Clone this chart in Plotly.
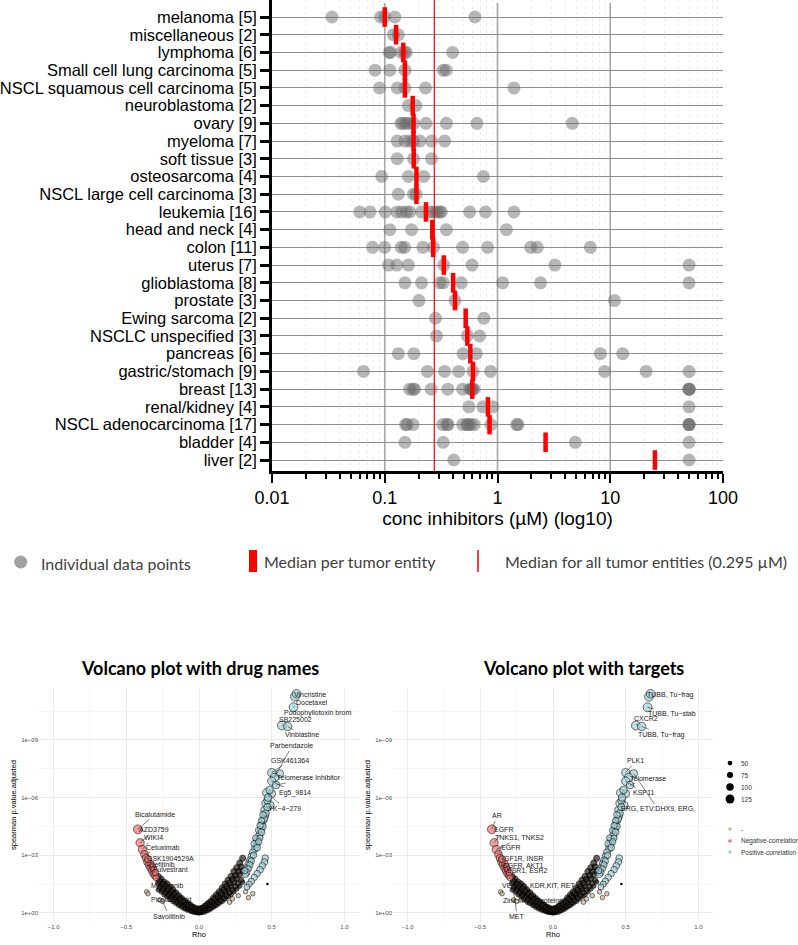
import plotly.graph_objects as go

# ---------------- top chart data ----------------
tumor_entities = ["melanoma", "miscellaneous", "lymphoma", "Small cell lung carcinoma",
                  "NSCL squamous cell carcinoma", "neuroblastoma", "ovary", "myeloma",
                  "soft tissue", "osteosarcoma", "NSCL large cell carcinoma", "leukemia",
                  "head and neck", "colon", "uterus", "glioblastoma", "prostate",
                  "Ewing sarcoma", "NSCLC unspecified", "pancreas", "gastric/stomach",
                  "breast", "renal/kidney", "NSCL adenocarcinoma", "bladder", "liver"]
n_cell_lines = [5, 2, 6, 5, 5, 2, 9, 7, 3, 4, 3, 16, 4, 11, 7, 8, 3, 2, 3, 6, 9, 13, 4, 17, 4, 2]

conc_values = [
    [0.034, 0.092, 0.100, 0.123, 0.63],
    [0.119, 0.132],
    [0.110, 0.112, 0.140, 0.150, 0.155, 0.40],
    [0.082, 0.111, 0.151, 0.33, 0.35],
    [0.090, 0.129, 0.151, 0.23, 1.40],
    [0.162, 0.189],
    [0.139, 0.145, 0.155, 0.165, 0.18, 0.232, 0.352, 0.657, 4.6],
    [0.129, 0.151, 0.167, 0.18, 0.205, 0.26, 0.34],
    [0.129, 0.18, 0.26],
    [0.094, 0.162, 0.222, 0.75],
    [0.132, 0.18, 0.19],
    [0.060, 0.074, 0.101, 0.128, 0.141, 0.156, 0.167, 0.212, 0.251, 0.269, 0.29, 0.308, 0.318, 0.566, 0.783, 1.40],
    [0.111, 0.173, 0.352, 1.2],
    [0.078, 0.100, 0.140, 0.150, 0.218, 0.27, 0.49, 0.817, 1.97, 2.25, 6.66],
    [0.108, 0.128, 0.162, 0.334, 0.594, 3.23, 50],
    [0.151, 0.212, 0.308, 0.33, 0.478, 1.11, 2.41, 50],
    [0.201, 0.42, 10.9],
    [0.282, 0.757],
    [0.288, 0.54, 0.694],
    [0.132, 0.181, 0.494, 0.648, 8.16, 12.9],
    [0.0648, 0.239, 0.34, 0.453, 0.606, 0.868, 8.91, 20.8, 50],
    [0.166, 0.178, 0.184, 0.258, 0.362, 0.491, 0.57, 0.59, 0.60, 0.62, 50, 50, 50],
    [0.558, 0.742, 0.91, 50],
    [0.153, 0.158, 0.178, 0.327, 0.355, 0.365, 0.491, 0.535, 0.55, 0.58, 0.622, 0.873, 1.48, 1.52, 50, 50, 50],
    [0.151, 0.33, 4.9, 50],
    [0.41, 50],
]
median_per_entity = [0.100, 0.126, 0.146, 0.151, 0.151, 0.177, 0.180, 0.180, 0.181, 0.191,
                     0.191, 0.232, 0.264, 0.269, 0.334, 0.404, 0.420, 0.522, 0.540, 0.574,
                     0.606, 0.597, 0.822, 0.850, 2.67, 24.9]
median_all_entities = 0.275
x_tickvals = [0.01, 0.1, 1, 10, 100]
x_ticktext = ["0.01", "0.1", "1", "10", "100"]
x_gridvals = [0.1, 1, 10]

# ---------------- volcano data ----------------
pos_rho = [0.66, 0.67, 0.65, 0.57, 0.61, 0.50, 0.555, 0.52, 0.50, 0.53, 0.465, 0.50, 0.46, 0.49, 0.47,
           0.45, 0.455, 0.44, 0.43, 0.425, 0.415, 0.40, 0.395, 0.385, 0.37, 0.36, 0.35, 0.34, 0.33, 0.41,
           0.39, 0.38, 0.44, 0.45, 0.42, 0.43, 0.41, 0.40, 0.375, 0.36, 0.35, 0.34, 0.33, 0.32, 0.315,
           0.46, 0.47, 0.475, 0.485, 0.44, 0.43, 0.42,
           0.455, 0.45, 0.435, 0.42, 0.40, 0.38, 0.36, 0.345, 0.33]
pos_lp = [-11.25, -11.4, -10.7, -9.75, -9.7, -7.3, -7.25, -7.05, -6.85, -6.65, -6.25, -6.2, -5.7, -5.6, -5.85,
          -5.35, -5.05, -4.8, -4.55, -4.3, -4.05, -3.8, -3.55, -3.35, -3.15, -2.95, -2.75, -2.55, -2.35, -4.3,
          -3.9, -3.6, -4.5, -4.9, -3.9, -4.2, -3.7, -3.4, -3.0, -2.7, -2.5, -2.3, -2.1, -2.0, -2.2,
          -5.2, -5.5, -6.0, -6.4, -5.1, -4.8, -4.55,
          -2.85, -2.65, -2.45, -2.25, -2.05, -1.85, -1.65, -1.5, -1.35]
pos_n = [125, 120, 125, 125, 115, 110, 105, 110, 115, 100, 115, 105, 110, 105, 95,
         100, 95, 95, 95, 90, 95, 95, 90, 90, 90, 85, 85, 85, 80, 80,
         80, 85, 85, 85, 75, 85, 80, 85, 80, 80, 80, 75, 75, 75, 80,
         90, 95, 100, 100, 85, 80, 80,
         85, 85, 85, 85, 80, 80, 80, 75, 70]

neg_rho = [-0.42, -0.405, -0.39, -0.375, -0.365, -0.355, -0.345, -0.335, -0.325, -0.315, -0.305, -0.295,
           -0.33, -0.35, -0.32, -0.31, -0.30]
neg_lp = [-4.35, -3.65, -3.3, -3.05, -2.85, -2.65, -2.5, -2.35, -2.2, -2.05, -1.95, -1.85,
          -2.55, -2.8, -2.4, -2.25, -2.1]
neg_n = [125, 115, 110, 105, 100, 100, 95, 95, 90, 90, 85, 85, 85, 90, 85, 80, 80]

# dense non-significant core of the "V"
core_rho = [-0.28, -0.28, -0.28, -0.26, -0.26, -0.26, -0.24, -0.24, -0.24, -0.22, -0.22, -0.22,
            -0.20, -0.20, -0.20, -0.18, -0.18, -0.18, -0.16, -0.16, -0.16, -0.14, -0.14, -0.14,
            -0.12, -0.12, -0.12, -0.10, -0.10, -0.10, -0.08, -0.08, -0.08, -0.06, -0.06, -0.06,
            -0.04, -0.04, -0.04, -0.02, -0.02, -0.02, 0.00, 0.00, 0.00, 0.02, 0.02, 0.02,
            0.04, 0.04, 0.04, 0.06, 0.06, 0.06, 0.08, 0.08, 0.08, 0.10, 0.10, 0.10,
            0.12, 0.12, 0.12, 0.14, 0.14, 0.14, 0.16, 0.16, 0.16, 0.18, 0.18, 0.18,
            0.20, 0.20, 0.20, 0.22, 0.22, 0.22, 0.24, 0.24, 0.24, 0.26, 0.26, 0.26,
            0.28, 0.28, 0.28, 0.30, 0.30, 0.30,
            -0.27, -0.27, -0.25, -0.25, -0.23, -0.23, -0.21, -0.21, -0.19, -0.19, -0.17, -0.17,
            -0.15, -0.15, -0.13, -0.13, -0.11, -0.11, -0.09, -0.09, -0.07, -0.07, -0.05, -0.05,
            -0.03, -0.03, -0.01, -0.01, 0.01, 0.01, 0.03, 0.03, 0.05, 0.05, 0.07, 0.07,
            0.09, 0.09, 0.11, 0.11, 0.13, 0.13, 0.15, 0.15, 0.17, 0.17, 0.19, 0.19,
            0.21, 0.21, 0.23, 0.23, 0.25, 0.25, 0.27, 0.27, 0.29, 0.29]
core_lp = [-1.2, -1.55, -1.9, -1.1, -1.4, -1.75, -0.95, -1.3, -1.6, -0.85, -1.15, -1.5,
           -0.7, -1.0, -1.35, -0.6, -0.9, -1.2, -0.5, -0.78, -1.05, -0.4, -0.65, -0.9,
           -0.3, -0.52, -0.75, -0.22, -0.42, -0.62, -0.15, -0.32, -0.5, -0.1, -0.25, -0.4,
           -0.05, -0.18, -0.3, -0.02, -0.1, -0.22, 0.0, -0.08, -0.2, -0.02, -0.12, -0.25,
           -0.05, -0.2, -0.35, -0.12, -0.3, -0.48, -0.2, -0.4, -0.6, -0.3, -0.52, -0.78,
           -0.4, -0.65, -0.95, -0.5, -0.8, -1.1, -0.6, -0.95, -1.3, -0.72, -1.1, -1.5,
           -0.85, -1.25, -1.7, -0.95, -1.4, -1.9, -1.1, -1.6, -2.15, -1.25, -1.8, -2.35,
           -1.4, -2.0, -2.6, -1.6, -2.2, -2.85,
           -1.32, -1.65, -1.2, -1.5, -1.05, -1.4, -0.92, -1.25, -0.8, -1.12, -0.7, -0.98,
           -0.58, -0.85, -0.47, -0.72, -0.38, -0.6, -0.28, -0.48, -0.2, -0.38, -0.13, -0.3,
           -0.08, -0.22, -0.04, -0.15, -0.04, -0.16, -0.1, -0.26, -0.16, -0.36, -0.24, -0.46,
           -0.33, -0.58, -0.42, -0.72, -0.54, -0.86, -0.66, -1.02, -0.78, -1.2, -0.92, -1.38,
           -1.06, -1.55, -1.2, -1.75, -1.38, -1.95, -1.55, -2.15, -1.72, -2.4]
core_n = [40, 55, 70] * 30 + [50, 62] * 29

# isolated non-significant points
ns_rho = [-0.36, -0.35, -0.27, -0.25, 0.21, 0.23, 0.27, 0.32, 0.37, 0.34]
ns_lp = [-1.1, -1.0, -0.68, -0.6, -0.56, -0.73, -0.9, -1.1, -1.0, -0.8]
ns_n = [45, 45, 45, 45, 45, 45, 45, 45, 45, 45]

lone_rho = [0.47]
lone_lp = [-1.5]

drug_labels = ["Vincristine", "Docetaxel", "Podophyllotoxin brom", "SB225002", "Vinblastine",
               "Parbendazole", "GSK461364", "Telomerase Inhibitor", "Eg5_9814", "YK\u22124\u2212279",
               "Bicalutamide", "AZD3759", "WIKI4", "Cetuximab", "GSK1904529A", "Gefitinib",
               "Fulvestrant", "Motesanib", "Picolinic acid", "Savolitinib"]
drug_pt_rho = [0.66, 0.65, 0.65, 0.57, 0.61, 0.52, 0.50, 0.53, 0.50, 0.465,
               -0.42, -0.405, -0.39, -0.375, -0.355, -0.345, -0.335, -0.28, -0.25, -0.25]
drug_pt_lp = [-11.25, -10.7, -10.7, -9.75, -9.7, -7.05, -7.3, -6.65, -6.85, -6.25,
              -4.35, -3.65, -3.3, -3.05, -2.65, -2.5, -2.35, -1.55, -0.6, -0.6]
drug_txt_rho = [0.763, 0.777, 0.818, 0.66, 0.708, 0.639, 0.625, 0.756, 0.66, 0.591,
                -0.302, -0.309, -0.316, -0.247, -0.199, -0.254, -0.199, -0.22, -0.186, -0.206]
drug_txt_lp = [-11.38, -10.96, -10.42, -10.04, -9.26, -8.69, -7.92, -7.02, -6.26, -5.45,
               -5.13, -4.32, -3.92, -3.42, -2.85, -2.5, -2.24, -1.44, -0.68, 0.16]

target_labels = ["TUBB, Tu\u2212frag", "TUBB, Tu\u2212stab", "CXCR2", "TUBB, Tu\u2212frag", "PLK1",
                 "Telomerase", "KSP11", "ERG, ETV:DHX9, ERG,", "AR", "EGFR", "TNKS1, TNKS2", "EGFR",
                 "IGF1R, INSR", "EGFR, AKT1", "ESR1, ESR2", "VEGFR, KDR,KIT, RET",
                 "Zinc finger proteins", "MET"]
target_pt_rho = [0.66, 0.65, 0.57, 0.61, 0.50, 0.53, 0.50, 0.555, -0.42, -0.405, -0.39, -0.375,
                 -0.355, -0.345, -0.335, -0.28, -0.25, -0.28]
target_pt_lp = [-11.25, -10.7, -9.75, -9.7, -7.3, -6.65, -6.85, -7.25, -4.35, -3.65, -3.3, -3.05,
                -2.65, -2.5, -2.35, -1.55, -0.6, -1.6]
target_txt_rho = [0.81, 0.818, 0.639, 0.749, 0.57, 0.653, 0.625, 0.72, -0.385, -0.337, -0.227, -0.289,
                  -0.213, -0.206, -0.172, -0.103, -0.137, -0.247]
target_txt_lp = [-11.36, -10.35, -10.09, -9.26, -7.91, -7.01, -6.26, -5.41, -5.06, -4.32, -3.9, -3.42,
                 -2.83, -2.48, -2.2, -1.42, -0.62, 0.16]

size_legend_vals = [50, 75, 100, 125]
color_groups = ["-", "Negative-correlation", "Positive-correlation"]

# ---------------- styling ----------------
W, H = 798, 945
BLUE = "#a3d2d8"
RED = "#f07272"
TAN = "#d9b48e"
SANS = "Liberation Sans, Arial, sans-serif"
HUM = "Lato, Open Sans, sans-serif"


def px(v):
    return v / W


def py(v):
    return 1 - v / H


def msize(n):
    return 2 + 0.055 * n


fig = go.Figure()

# --- top dot plot ---
labels = [f"{e} [{n}]" for e, n in zip(tumor_entities, n_cell_lines)]
xs, ys = [], []
for i, vals in enumerate(conc_values):
    for v in vals:
        xs.append(v)
        ys.append(i)
fig.add_trace(go.Scatter(x=xs, y=ys, mode="markers", xaxis="x", yaxis="y",
                         marker=dict(size=13, color="rgba(105,105,105,0.48)", line=dict(width=0)),
                         hoverinfo="x"))
fig.add_trace(go.Scatter(x=median_per_entity, y=list(range(len(tumor_entities))), mode="markers",
                         xaxis="x", yaxis="y",
                         marker=dict(symbol="line-ns", size=14, line=dict(width=4.5, color="#ff0000")),
                         hoverinfo="x"))

# --- volcano plots ---
for xa, ya in (("x2", "y2"), ("x3", "y3")):
    fig.add_trace(go.Scatter(x=core_rho, y=[10 ** v for v in core_lp], mode="markers", xaxis=xa, yaxis=ya,
                             marker=dict(size=[msize(n) for n in core_n], color="#2a2018",
                                         line=dict(width=1.2, color="black"))))
    fig.add_trace(go.Scatter(x=ns_rho, y=[10 ** v for v in ns_lp], mode="markers", xaxis=xa, yaxis=ya,
                             marker=dict(size=[msize(n) for n in ns_n], color=TAN,
                                         line=dict(width=0.8, color="black"))))
    fig.add_trace(go.Scatter(x=pos_rho, y=[10 ** v for v in pos_lp], mode="markers", xaxis=xa, yaxis=ya,
                             marker=dict(size=[msize(n) for n in pos_n], color=BLUE,
                                         line=dict(width=0.8, color="black"))))
    fig.add_trace(go.Scatter(x=neg_rho, y=[10 ** v for v in neg_lp], mode="markers", xaxis=xa, yaxis=ya,
                             marker=dict(size=[msize(n) for n in neg_n], color=RED,
                                         line=dict(width=0.8, color="black"))))
    fig.add_trace(go.Scatter(x=lone_rho, y=[10 ** v for v in lone_lp], mode="markers", xaxis=xa, yaxis=ya,
                             marker=dict(size=2.5, color="black")))

annotations = []
for lab, pr, pl, tr, tl in zip(drug_labels, drug_pt_rho, drug_pt_lp, drug_txt_rho, drug_txt_lp):
    annotations.append(dict(x=pr, y=pl, ax=tr, ay=tl, xref="x2", yref="y2", axref="x2", ayref="y2",
                            text=lab, showarrow=True, arrowhead=0, arrowwidth=0.6, arrowcolor="#333",
                            standoff=0, font=dict(family=SANS, size=7, color="#1a1a1a")))
for lab, pr, pl, tr, tl in zip(target_labels, target_pt_rho, target_pt_lp, target_txt_rho, target_txt_lp):
    annotations.append(dict(x=pr, y=pl, ax=tr, ay=tl, xref="x3", yref="y3", axref="x3", ayref="y3",
                            text=lab, showarrow=True, arrowhead=0, arrowwidth=0.6, arrowcolor="#333",
                            standoff=0, font=dict(family=SANS, size=7, color="#1a1a1a")))

# titles
annotations.append(dict(x=px(200), y=py(668), xref="paper", yref="paper", xanchor="center", yanchor="middle",
                        showarrow=False, text="<b>Volcano plot with drug names</b>",
                        font=dict(family=HUM, size=18, color="black")))
annotations.append(dict(x=px(583), y=py(668), xref="paper", yref="paper", xanchor="center", yanchor="middle",
                        showarrow=False, text="<b>Volcano plot with targets</b>",
                        font=dict(family=HUM, size=18, color="black")))

# top legend
leg_font = dict(family=HUM, size=16, color="#404040")
annotations += [
    dict(x=px(39), y=py(563), xref="paper", yref="paper", xanchor="left", yanchor="middle", showarrow=False,
         text="Individual data points", font=leg_font),
    dict(x=px(262), y=py(561), xref="paper", yref="paper", xanchor="left", yanchor="middle", showarrow=False,
         text="Median per tumor entity", font=leg_font),
    dict(x=px(503), y=py(561), xref="paper", yref="paper", xanchor="left", yanchor="middle", showarrow=False,
         text="Median for all tumor entities (0.295 \u00b5M)", font=leg_font),
]

# volcano legend text
small_font = dict(family=SANS, size=6.5, color="#333")
for v, yy in zip(size_legend_vals, [763, 775, 787, 799]):
    annotations.append(dict(x=px(739), y=py(yy), xref="paper", yref="paper", xanchor="left", yanchor="middle",
                            showarrow=False, text=str(v), font=small_font))
for g, yy in zip(color_groups, [829, 841, 852]):
    annotations.append(dict(x=px(739), y=py(yy), xref="paper", yref="paper", xanchor="left", yanchor="middle",
                            showarrow=False, text=g, font=small_font))

shapes = []
# top chart vertical gridlines and overall median line (data values on the log axis)
for g in x_gridvals:
    shapes.append(dict(type="line", xref="x", yref="paper", x0=g, x1=g,
                       y0=py(471), y1=py(3), line=dict(color="#a6a6a6", width=1.6), layer="below"))
shapes.append(dict(type="line", xref="x", yref="paper", x0=median_all_entities,
                   x1=median_all_entities, y0=py(471), y1=1,
                   line=dict(color="#ff0000", width=1.2), layer="above"))
# top legend marks
shapes.append(dict(type="circle", xref="paper", yref="paper", x0=px(14.2), x1=px(27.2), y0=py(568.5),
                   y1=py(555.5), fillcolor="#a0a0a0", line=dict(width=0)))
shapes.append(dict(type="rect", xref="paper", yref="paper", x0=px(249), x1=px(257), y0=py(572), y1=py(550),
                   fillcolor="#ff0000", line=dict(width=0)))
shapes.append(dict(type="line", xref="paper", yref="paper", x0=px(478), x1=px(478), y0=py(572), y1=py(550),
                   line=dict(color="#ff0000", width=1.5)))
# volcano legend marks
for v, yy in zip(size_legend_vals, [763, 775, 787, 799]):
    r = msize(v) / 2
    shapes.append(dict(type="circle", xref="paper", yref="paper", x0=px(730 - r), x1=px(730 + r),
                       y0=py(yy + r), y1=py(yy - r), fillcolor="black", line=dict(width=0)))
for c, yy in zip([TAN, RED, BLUE], [829, 841, 852]):
    shapes.append(dict(type="circle", xref="paper", yref="paper", x0=px(728.2), x1=px(731.8),
                       y0=py(yy + 1.8), y1=py(yy - 1.8), fillcolor=c, line=dict(width=0)))

minor_x = [k * 10 ** e for e in range(-2, 2) for k in range(2, 10)]

v_x_common = dict(range=[-1.1, 1.1], tickvals=[-1, -0.5, 0, 0.5, 1], automargin=False,
                  ticktext=["\u22121.0", "\u22120.5", "0.0", "0.5", "1.0"],
                  showgrid=True, gridcolor="#ebebeb", gridwidth=0.8, zeroline=False, ticks="",
                  minor=dict(tickvals=[-0.75, -0.25, 0.25, 0.75], showgrid=True, gridcolor="#f5f5f5", gridwidth=0.5),
                  tickfont=dict(family=SANS, size=6, color="#4d4d4d"),
                  title=dict(text="Rho", font=dict(family=SANS, size=7.5, color="black"), standoff=1))
v_y_common = dict(type="log", range=[0.47, -11.7], tickvals=[1, 1e-3, 1e-6, 1e-9], automargin=False,
                  ticktext=["1e+00", "1e\u221203", "1e\u221206", "1e\u221209"],
                  showgrid=True, gridcolor="#ebebeb", gridwidth=0.8, zeroline=False, ticks="",
                  minor=dict(tickvals=[10 ** -1.5, 10 ** -4.5, 10 ** -7.5, 10 ** -10.5], showgrid=True,
                             gridcolor="#f5f5f5", gridwidth=0.5),
                  tickfont=dict(family=SANS, size=6, color="#4d4d4d"),
                  title=dict(text="spearman p.value.adjusted", font=dict(family=SANS, size=7.5, color="black"),
                             standoff=3))

fig.update_layout(
    width=W, height=H, margin=dict(l=0, r=0, t=0, b=0, autoexpand=False),
    paper_bgcolor="white", plot_bgcolor="white", showlegend=False,
    xaxis=dict(domain=[px(272), px(723)], anchor="y", type="log", range=[-2, 2], automargin=False,
               tickvals=x_tickvals, ticktext=x_ticktext, ticks="outside", ticklen=9, tickwidth=2.2,
               tickcolor="black", showline=True, linewidth=2.6, linecolor="black", showgrid=False,
               zeroline=False,
               minor=dict(tickvals=minor_x, ticks="outside", ticklen=5.5, tickwidth=2, tickcolor="black",
                          showgrid=True, gridcolor="#ececec", griddash="dot", gridwidth=1),
               tickfont=dict(family=SANS, size=18, color="black"),
               title=dict(text="conc inhibitors (\u00b5M) (log10)", font=dict(family=SANS, size=19, color="black"),
                          standoff=5)),
    yaxis=dict(domain=[py(471), 1], anchor="x", range=[25.62, -0.96], automargin=False,
               tickvals=list(range(len(labels))), ticktext=labels, ticks="outside", ticklen=9,
               tickwidth=2.5, tickcolor="black", showline=True, linewidth=2.6, linecolor="black",
               showgrid=True, gridcolor="#8e8e8e", gridwidth=1.3, zeroline=False,
               tickfont=dict(family=SANS, size=16.5, color="black")),
    xaxis2=dict(domain=[px(39), px(359)], anchor="y2", **v_x_common),
    yaxis2=dict(domain=[py(922), py(688)], anchor="x2", **v_y_common),
    xaxis3=dict(domain=[px(393), px(713)], anchor="y3", **v_x_common),
    yaxis3=dict(domain=[py(922), py(688)], anchor="x3", **v_y_common),
    annotations=annotations,
    shapes=shapes,
)

fig.write_html("out.html")
